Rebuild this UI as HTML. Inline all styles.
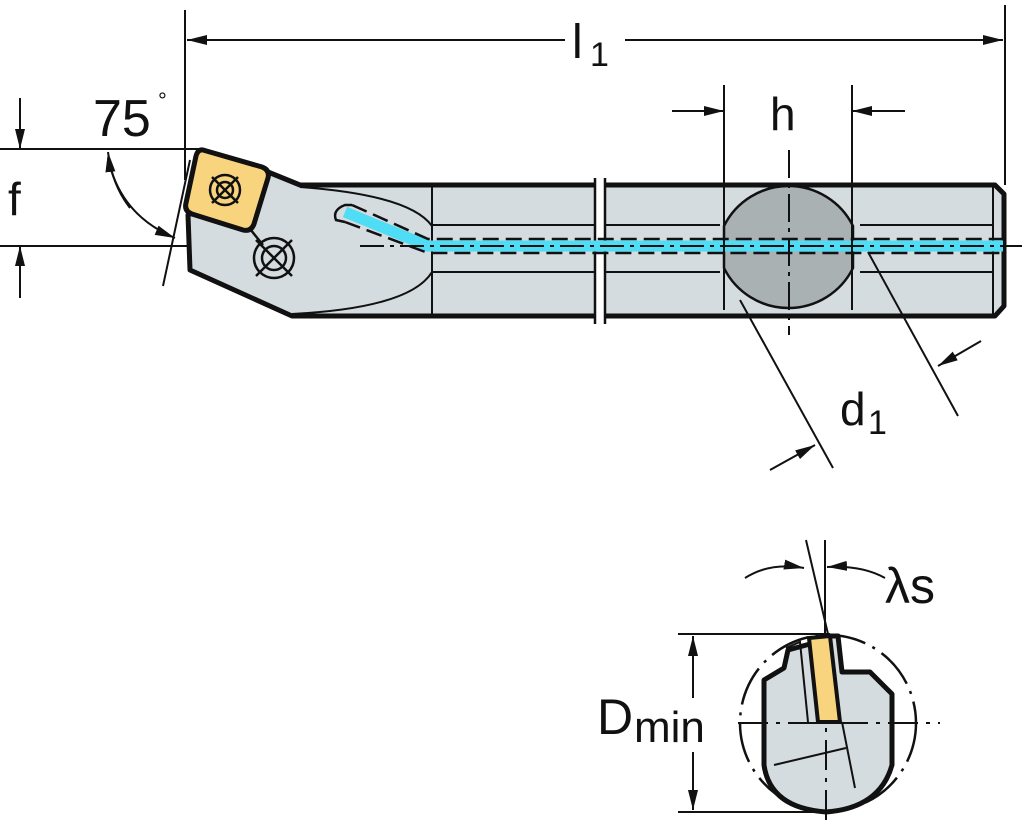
<!DOCTYPE html>
<html><head><style>html,body{margin:0;padding:0;background:#fff}svg{display:block}</style></head>
<body>
<svg width="1024" height="823" viewBox="0 0 1024 823" xmlns="http://www.w3.org/2000/svg" font-family="Liberation Sans, sans-serif">
<defs>
<marker id="ar" viewBox="0 0 20 10" refX="20" refY="5" markerWidth="20" markerHeight="10" markerUnits="userSpaceOnUse" orient="auto"><path d="M0,0 L20,5 L0,10 z" fill="#111"/></marker>
</defs>
<g stroke="#111" fill="none">
<line x1="185" y1="10" x2="185" y2="180" stroke-width="2"/>
<line x1="1005" y1="5" x2="1005" y2="185" stroke-width="2"/>
<line x1="565" y1="40" x2="187" y2="40" stroke-width="2" marker-end="url(#ar)"/>
<line x1="625" y1="40" x2="1003" y2="40" stroke-width="2" marker-end="url(#ar)"/>
<line x1="0" y1="149" x2="200" y2="149" stroke-width="2"/>
<line x1="0" y1="246" x2="1022" y2="246" stroke-width="2"/>
<line x1="20" y1="98" x2="20" y2="149" stroke-width="2" marker-end="url(#ar)"/>
<line x1="20" y1="298" x2="20" y2="246" stroke-width="2" marker-end="url(#ar)"/>
<path d="M108,158 Q120,215 175,238" stroke-width="2" marker-end="url(#ar)"/>
<path d="M130,208 Q112,185 108,152" stroke-width="2" marker-end="url(#ar)"/>
<line x1="190" y1="160" x2="163" y2="286" stroke-width="2"/>
</g>
<path d="M188,215 L190,270 L292,316 L995,316 L1004,306 L1004,194 L995,185 L300,185 L268,172 Z" fill="#d5dcdf" stroke="#111" stroke-width="5" stroke-linejoin="round"/>
<g stroke="#111" fill="none" stroke-width="2">
<path d="M300,187 Q410,195 432,226"/>
<path d="M292,314 Q410,308 432,272"/>
<line x1="432" y1="186" x2="432" y2="314"/>
<line x1="432" y1="225" x2="594" y2="225"/><line x1="432" y1="272" x2="594" y2="272"/>
<line x1="606" y1="225" x2="720" y2="225"/><line x1="606" y1="272" x2="720" y2="272"/>
<line x1="860" y1="225" x2="993" y2="225"/><line x1="860" y1="272" x2="993" y2="272"/>
<line x1="993" y1="187" x2="993" y2="314"/>
</g>
<rect x="594" y="178" width="12" height="146" fill="#fff"/>
<line x1="595" y1="178" x2="595" y2="324" stroke="#111" stroke-width="2.5"/>
<line x1="605" y1="178" x2="605" y2="324" stroke="#111" stroke-width="2.5"/>
<path d="M724,226 A72,72 0 0 1 853,226 L853,268 A72,72 0 0 1 724,268 Z" fill="#a9b1b3" stroke="#111" stroke-width="2.5"/>
<path d="M345,212 L428,246 L1003,246" stroke="#4fdcf5" stroke-width="11" fill="none"/>
<path d="M352,205 L345,205 Q332,210 336,220 L345,222" stroke="#111" stroke-width="2.5" fill="none"/>
<path d="M352,205 L428,239 L1003,239" stroke="#111" stroke-width="2.5" stroke-dasharray="16,7" fill="none"/>
<path d="M345,222 L428,253 L1003,253" stroke="#111" stroke-width="2.5" stroke-dasharray="16,7" fill="none"/>
<line x1="360" y1="246" x2="1003" y2="246" stroke="#111" stroke-width="2" stroke-dasharray="24,6,4,6"/>
<path d="M203,150 L262,167 Q270,170 268,178 L254,224 Q251,232 243,230 L192,214 Q184,211 186,203 L196,156 Q198,149 203,150 Z" fill="#f8d47e" stroke="#111" stroke-width="5"/>
<g stroke="#111" fill="none" stroke-width="2.5">
<circle cx="225" cy="190" r="15"/><circle cx="225" cy="190" r="8"/>
<line x1="212" y1="177" x2="238" y2="203"/><line x1="238" y1="177" x2="212" y2="203"/>
<line x1="250" y1="229" x2="263" y2="245"/>
<circle cx="274" cy="258" r="20"/><circle cx="274" cy="258" r="12"/>
<line x1="256" y1="240" x2="292" y2="276"/><line x1="292" y1="240" x2="256" y2="276"/>
</g>
<g stroke="#111" stroke-width="2" fill="none">
<line x1="724" y1="85" x2="724" y2="310"/>
<line x1="852" y1="85" x2="852" y2="310"/>
<line x1="672" y1="111" x2="724" y2="111" marker-end="url(#ar)"/>
<line x1="905" y1="111" x2="852" y2="111" marker-end="url(#ar)"/>
<line x1="789" y1="150" x2="789" y2="335" stroke-dasharray="28,6,4,6"/>
<line x1="868" y1="252" x2="958" y2="416"/>
<line x1="740" y1="300" x2="833" y2="468"/>
<line x1="981" y1="341" x2="938" y2="366" marker-end="url(#ar)"/>
<line x1="770" y1="470" x2="815" y2="445" marker-end="url(#ar)"/>
</g>
<g fill="#111">
<text x="572" y="58" font-size="48">l</text><text x="590" y="66" font-size="34">1</text>
<text x="770" y="130" font-size="46">h</text>
<text x="8" y="215" font-size="46">f</text>
<text x="93" y="136" font-size="52">75</text><text x="158" y="108" font-size="22">°</text>
<text x="840" y="425" font-size="46">d</text><text x="868" y="434" font-size="34">1</text>
</g>
<g stroke="#111" fill="none" stroke-width="2">
<line x1="678" y1="634" x2="830" y2="634"/>
<line x1="678" y1="812" x2="830" y2="812"/>
<line x1="693" y1="698" x2="693" y2="636" marker-end="url(#ar)"/>
<line x1="693" y1="752" x2="693" y2="810" marker-end="url(#ar)"/>
<circle cx="828" cy="723" r="88" stroke-width="2.5" stroke-dasharray="40,8,3,8"/>
<line x1="806" y1="540" x2="828" y2="634"/>
<line x1="825" y1="540" x2="825" y2="634"/>
<path d="M745,578 Q770,562 804,568" marker-end="url(#ar)"/>
<path d="M885,578 Q862,565 827,567" marker-end="url(#ar)"/>
</g>
<path d="M764,680 L784,668 L788,650 L810,644 L828,636 L838,636 L842,672 L870,672 L892,694 L892,765 Q880,808 826,812 Q770,808 764,765 Z" fill="#d5dcdf" stroke="#111" stroke-width="5" stroke-linejoin="round"/>
<g stroke="#111" fill="none" stroke-width="2">
<path d="M786,648 L800,642 L808,722"/>
<line x1="774" y1="765" x2="846" y2="748"/>
<line x1="842" y1="722" x2="855" y2="788"/>
<line x1="738" y1="723" x2="940" y2="723" stroke-dasharray="30,8,4,8"/>
<line x1="826" y1="690" x2="826" y2="822" stroke-dasharray="30,8,4,8"/>
</g>
<path d="M809,638 L830,636 L840,722 L818,722 Z" fill="#f8d47e" stroke="#111" stroke-width="4"/>
<g fill="#111">
<text x="597" y="734" font-size="50">D</text><text x="634" y="742" font-size="44">min</text>
<text x="885" y="603" font-size="50">λs</text>
</g>
</svg>
</body></html>
